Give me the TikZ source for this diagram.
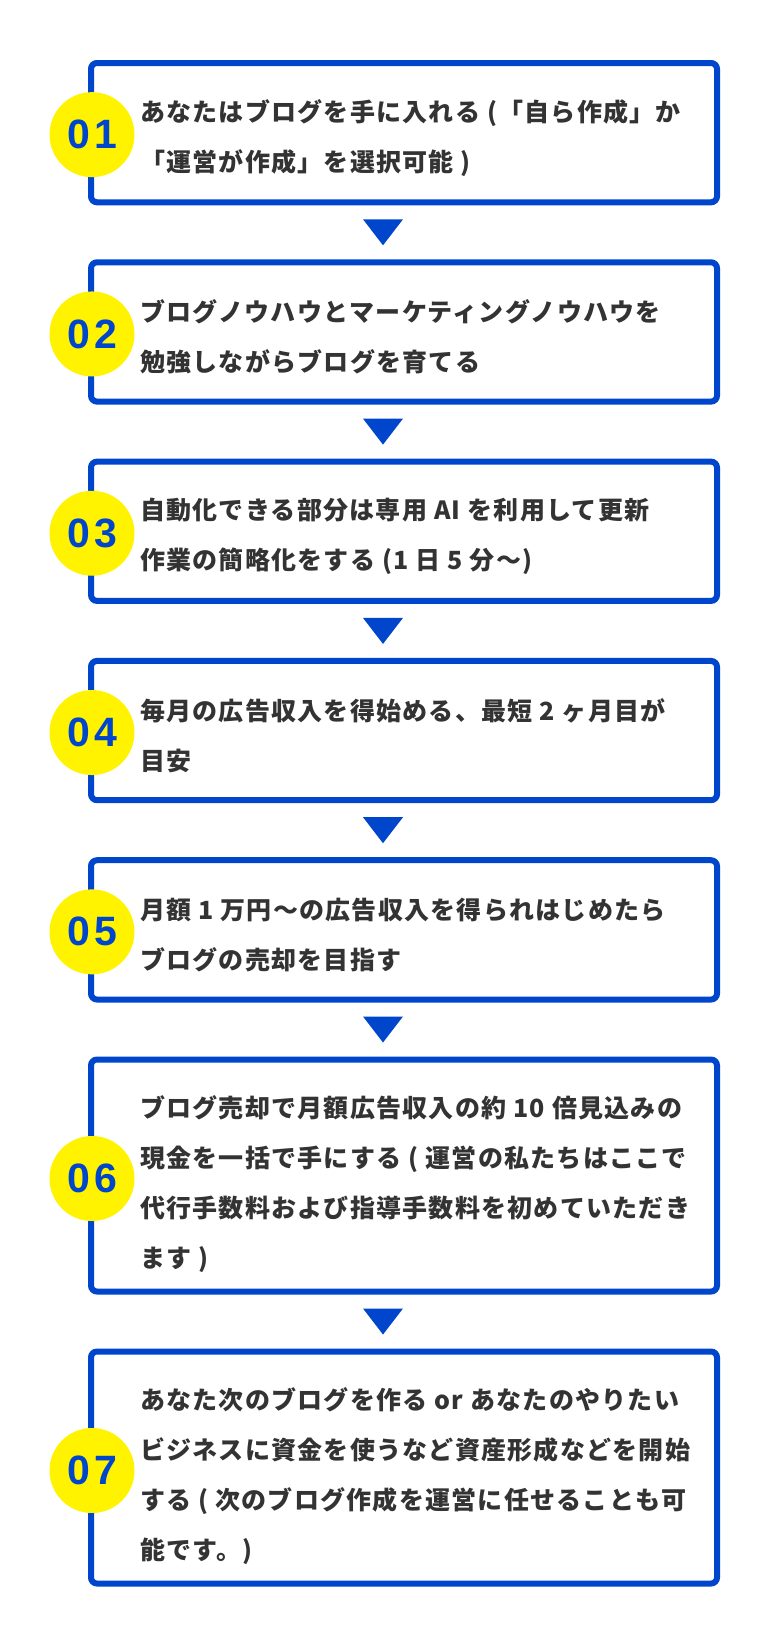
\documentclass[tikz,border=0pt]{standalone}
\usepackage{fontspec}
\usetikzlibrary{calc}
\newfontfamily\jpfont{Noto Sans CJK JP}[LetterSpace=5]
\newfontfamily\numfont{Liberation Sans}[LetterSpace=10]
\definecolor{flowblue}{RGB}{0,70,205}
\definecolor{flowyellow}{RGB}{255,243,0}
\definecolor{flowtext}{RGB}{51,51,51}
\tikzset{
  stepbox/.style={draw=flowblue, line width=6pt, rounded corners=6pt, fill=white,
    minimum width=626pt, inner sep=0pt},
  twoline/.style={stepbox, minimum height=139.3pt},
  fourline/.style={stepbox, minimum height=232pt},
  badge/.style={circle, fill=flowyellow, minimum size=85pt, inner sep=0pt,
    font=\numfont\bfseries\fontsize{41}{41}\selectfont, text=flowblue},
  body/.style={anchor=west, align=left, inner sep=0pt, text=flowtext,
    font=\jpfont\bfseries\fontsize{25}{50}\selectfont},
  downtri/.style={fill=flowblue}
}
\begin{document}
\begin{tikzpicture}[x=1pt,y=-1pt]
\fill[white] (0,0) rectangle (768,1641);
\useasboundingbox (0,0) rectangle (768,1641);

% boxes
\node[twoline]  (b1) at (404,132.65) {};
\node[twoline]  (b2) at (404,331.95) {};
\node[twoline]  (b3) at (404,531.25) {};
\node[twoline]  (b4) at (404,730.55) {};
\node[twoline]  (b5) at (404,929.85) {};
\node[fourline] (b6) at (404,1175.5) {};
\node[fourline] (b7) at (404,1467.5) {};

% badges
\node[badge] (n1) at (92,134.65) {01};
\node[badge] (n2) at (92,333.95) {02};
\node[badge] (n3) at (92,533.25) {03};
\node[badge] (n4) at (92,732.55) {04};
\node[badge] (n5) at (92,931.85) {05};
\node[badge] (n6) at (92,1178.5) {06};
\node[badge] (n7) at (92,1470.5) {07};

% texts
\node[body] (t1) at (140,137.65) {あなたはブログを手に入れる (「自ら作成」か\\「運営が作成」を選択可能 )};
\node[body] (t2) at (140,336.95) {ブログノウハウとマーケティングノウハウを\\勉強しながらブログを育てる};
\node[body] (t3) at (140,536.25) {自動化できる部分は専用 AI を利用して更新\\作業の簡略化をする (1 日 5 分〜)};
\node[body] (t4) at (140,735.55) {毎月の広告収入を得始める、最短 2 ヶ月目が\\目安};
\node[body] (t5) at (140,934.85) {月額 1 万円〜の広告収入を得られはじめたら\\ブログの売却を目指す};
\node[body] (t6) at (140,1184.5) {ブログ売却で月額広告収入の約 10 倍見込みの\\現金を一括で手にする ( 運営の私たちはここで\\代行手数料および指導手数料を初めていただき\\ます )};
\node[body] (t7) at (140,1476.5) {あなた次のブログを作る or あなたのやりたい\\ビジネスに資金を使うなど資産形成などを開始\\する ( 次のブログ作成を運営に任せることも可\\能です。)};

% down triangles between boxes
\foreach \a/\b in {b1/b2,b2/b3,b3/b4,b4/b5,b5/b6,b6/b7}{
  \coordinate (m) at ($(\a.south)!0.5!(\b.north)$);
  \fill[downtri] ([xshift=-41pt,yshift=13pt]m) -- ([xshift=-1pt,yshift=13pt]m) -- ([xshift=-21pt,yshift=-13pt]m) -- cycle;
}
\end{tikzpicture}
\end{document}
